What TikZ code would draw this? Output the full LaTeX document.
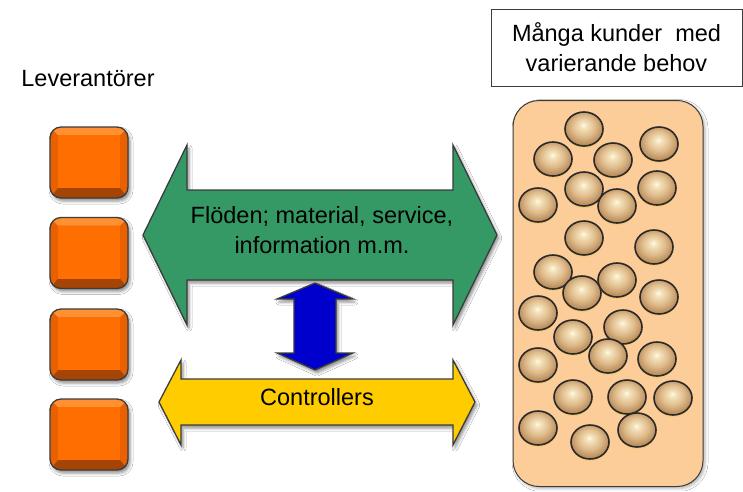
\documentclass[tikz,border=0pt]{standalone}
\usepackage{fontspec}
\setmainfont{Liberation Sans}
\usetikzlibrary{shadows.blur,shapes.geometric}
\definecolor{grn}{RGB}{53,153,102}
\definecolor{yel}{RGB}{255,204,0}
\definecolor{blu}{RGB}{0,0,204}
\definecolor{peach}{RGB}{252,204,153}
\definecolor{edge}{RGB}{60,60,60}
\definecolor{orM}{RGB}{255,110,0}
\definecolor{orL}{RGB}{255,145,50}
\definecolor{orS}{RGB}{232,96,0}
\definecolor{orD}{RGB}{165,68,5}
\definecolor{ballhi}{RGB}{255,252,232}
\definecolor{ballA}{RGB}{245,228,190}
\definecolor{ballB}{RGB}{224,188,140}
\definecolor{ballC}{RGB}{188,143,94}
\definecolor{ballE}{RGB}{160,118,75}
\definecolor{glow}{RGB}{235,200,60}
\pgfdeclareradialshading{ballshade}{\pgfpoint{-1bp}{6bp}}{%
  color(0bp)=(ballhi); color(4bp)=(ballA); color(15bp)=(ballB);
  color(25bp)=(ballC); color(31bp)=(ballE); color(50bp)=(ballE)}
\begin{document}
\begin{tikzpicture}[x=1pt,y=-1pt,
  txt/.style={font=\fontsize{23.5}{30}\selectfont, align=center, inner sep=0pt},
  softshadow/.style={blur shadow={shadow xshift=2pt, shadow yshift=-3pt,
     shadow blur radius=3pt, shadow opacity=45}},
  arrowshape/.style={draw=edge, line width=1.3pt, line join=miter, softshadow},
  supbox/.style={rectangle, rounded corners=11pt, minimum width=78pt,
    minimum height=71pt, fill=orS, draw=edge, line width=1.3pt, softshadow,
    path picture={
      \begin{scope}[sharp corners]
      \fill[orL] (path picture bounding box.north west) -- (path picture bounding box.north east)
        -- ([xshift=-8pt,yshift=-8pt]path picture bounding box.north east)
        -- ([xshift=8pt,yshift=-8pt]path picture bounding box.north west) -- cycle;
      \fill[orD] (path picture bounding box.south west) -- (path picture bounding box.south east)
        -- ([xshift=-8pt,yshift=10pt]path picture bounding box.south east)
        -- ([xshift=8pt,yshift=10pt]path picture bounding box.south west) -- cycle;
      \fill[orM] ([xshift=8pt,yshift=-8pt]path picture bounding box.north west)
        rectangle ([xshift=-8pt,yshift=10pt]path picture bounding box.south east);
      \end{scope}}},
  custbox/.style={rectangle, rounded corners=26pt, minimum width=190pt,
    minimum height=386pt, fill=peach, draw=edge, line width=1pt,
    blur shadow={shadow xshift=2pt, shadow yshift=-2pt, shadow blur radius=3pt, shadow opacity=30}},
  ball/.style={ellipse, minimum width=38pt, minimum height=34pt, inner sep=0pt,
    shading=ballshade, draw=edge!70!black, line width=1.6pt,
    preaction={fill=glow, fill opacity=0.35, transform canvas={yshift=-2pt}}}
]
\useasboundingbox (0,0) rectangle (743,491);
\fill[white] (0,0) rectangle (743,491);

% suppliers
\node[txt] (lev) at (88,79) {Leverantörer};
\node[supbox] (s1) at (89,162.5) {};
\node[supbox] (s2) at (89,253) {};
\node[supbox] (s3) at (89,344.5) {};
\node[supbox] (s4) at (89,434.5) {};

% customers
\node[draw=edge, line width=1pt, fill=white, minimum width=251pt, minimum height=77pt,
  txt] (title) at (616.5,47.5) {Många kunder\ \ med\\varierande behov};
\node[custbox] (cust) at (608,293.5) {};
\foreach \x/\y [count=\i] in {584/129,659/144,553/159,613/160,584/189,657/188,538/205,617/206,
  584/238,654/247,553/272,617/280,582/293,659/297,538/313,623/327,573/337,608/356,657/359,
  538/365,573/397,627/397,673/398,538/428,637/430,590/442}
  \node[ball] (b\i) at (\x,\y) {};

% green flow arrow
\draw[arrowshape, fill=grn] (143,235) -- (187,145) -- (187,190) -- (453,190) -- (453,145)
  -- (497,235) -- (453,325) -- (453,280) -- (187,280) -- (187,325) -- cycle;
\node[txt] (flow) at (322,230) {Flöden; material, service,\\information m.m.};

% yellow controllers arrow
\draw[arrowshape, fill=yel] (159,402) -- (181,360) -- (181,379) -- (453,379) -- (453,360)
  -- (475,402) -- (453,445) -- (453,425) -- (181,425) -- (181,445) -- cycle;
\node[txt] (ctrl) at (317,397) {Controllers};

% blue vertical arrow
\draw[arrowshape, fill=blu] (315,283) -- (353,299) -- (336,299) -- (336,353) -- (353,353)
  -- (315,370) -- (277,353) -- (294,353) -- (294,299) -- (277,299) -- cycle;
\end{tikzpicture}
\end{document}
